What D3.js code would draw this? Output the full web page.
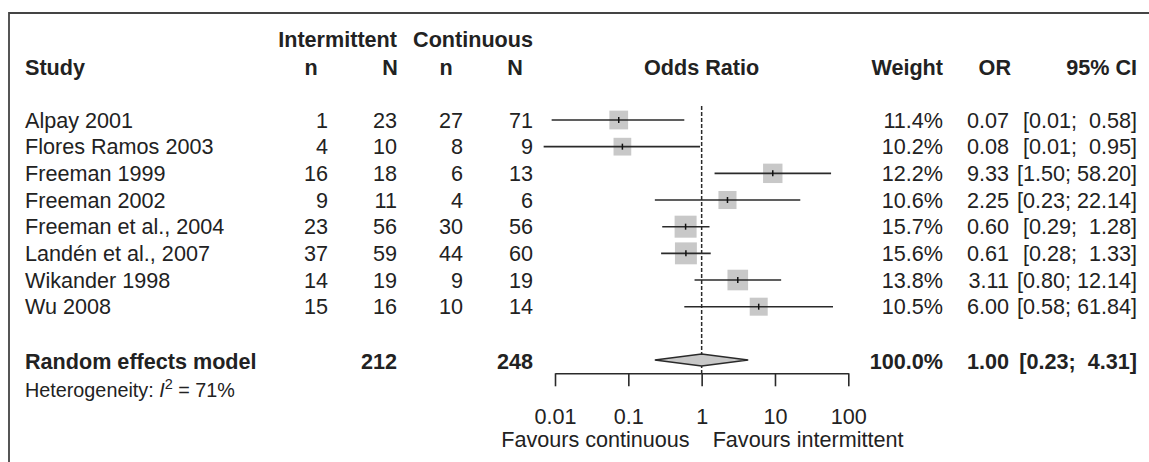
<!DOCTYPE html>
<html>
<head>
<meta charset="utf-8">
<script src="https://cdn.jsdelivr.net/npm/d3@7/dist/d3.min.js"></script>
<style>
  body { margin: 0; background: #fff; }
  svg text { font-family: "Liberation Sans", Arial, Helvetica, sans-serif; fill: #222; }
</style>
</head>
<body>
<div id="chart"></div>
<script>
// study data
const studies = ["Alpay 2001", "Flores Ramos 2003", "Freeman 1999", "Freeman 2002",
  "Freeman et al., 2004", "Landén et al., 2007", "Wikander 1998", "Wu 2008"];
const eventsInt = [1, 4, 16, 9, 23, 37, 14, 15];
const totalInt = [23, 10, 18, 11, 56, 59, 19, 16];
const eventsCon = [27, 8, 6, 4, 30, 44, 9, 10];
const totalCon = [71, 9, 13, 6, 56, 60, 19, 14];
const weights = [11.4, 10.2, 12.2, 10.6, 15.7, 15.6, 13.8, 10.5];
const oddsRatio = [0.074, 0.083, 9.33, 2.25, 0.604, 0.61, 3.11, 6.00];
const ciLower = [0.009, 0.007, 1.50, 0.23, 0.29, 0.28, 0.80, 0.58];
const ciUpper = [0.58, 0.95, 58.20, 22.14, 1.28, 1.33, 12.14, 61.84];

// random effects model
const pooledTotals = [212, 248];
const pooledWeight = [100.0];
const pooledOR = [1.00, 0.23, 4.31]; // estimate, lower, upper
const heterogeneityI2 = [71];

const axisTicks = [0.01, 0.1, 1, 10, 100];

const width = 1149, height = 462;
const fs = 21.6;
const dark = "#2a2a2a";

const svg = d3.select("#chart").append("svg")
  .attr("width", width)
  .attr("height", height);

// frame (top + left edge)
svg.append("path")
  .attr("d", `M9,${height} L9,13 L${width},13`)
  .attr("fill", "none")
  .attr("stroke", "#444")
  .attr("stroke-width", 1.8);

// scales
const x = d3.scaleLog().domain([0.01, 100]).range([555, 848.3]);
const y = d3.scaleLinear().domain([0, 1]).range([120, 146.67]);
const sq = d3.scaleSqrt().domain([0, 15.7]).range([0, 22]);

const fmt2 = d3.format(".2f");
const fmt1 = d3.format(".1f");
const ciText = (lo, hi) => "[" + fmt2(lo) + "; " + fmt2(hi).padStart(5, " ") + "]";

// text helper
function txt(xp, yp, s, anchor, bold, size) {
  return svg.append("text")
    .attr("x", xp)
    .attr("y", yp)
    .attr("text-anchor", anchor || "start")
    .attr("font-size", (size || fs) + "px")
    .attr("font-weight", bold ? "bold" : "normal")
    .style("white-space", "pre")
    .text(s);
}

// headers
const hy1 = 47, hy2 = 75;
txt(397, hy1, "Intermittent", "end", true);
txt(533, hy1, "Continuous", "end", true);
txt(25, hy2, "Study", "start", true);
txt(311, hy2, "n", "middle", true);
txt(390, hy2, "N", "middle", true);
txt(446, hy2, "n", "middle", true);
txt(515, hy2, "N", "middle", true);
txt(x(1), hy2, "Odds Ratio", "middle", true);
txt(943, hy2, "Weight", "end", true);
txt(1011, hy2, "OR", "end", true);
txt(1137, hy2, "95% CI", "end", true);

// reference line at OR = 1
svg.append("line")
  .attr("x1", x(1)).attr("x2", x(1))
  .attr("y1", 106).attr("y2", 373)
  .attr("stroke", dark)
  .attr("stroke-width", 1.5)
  .attr("stroke-dasharray", "4,2");

// study rows
studies.forEach((s, i) => {
  const cy = y(i);
  const by = cy + 7.7;
  txt(25, by, s, "start");
  txt(328, by, String(eventsInt[i]), "end");
  txt(397, by, String(totalInt[i]), "end");
  txt(463, by, String(eventsCon[i]), "end");
  txt(533, by, String(totalCon[i]), "end");
  txt(943, by, fmt1(weights[i]) + "%", "end");
  txt(1009, by, fmt2(oddsRatio[i]), "end");
  txt(1137, by, ciText(ciLower[i], ciUpper[i]), "end");

  const side = sq(weights[i]);
  svg.append("rect")
    .attr("x", x(oddsRatio[i]) - side / 2)
    .attr("y", cy - side / 2)
    .attr("width", side)
    .attr("height", side)
    .attr("fill", "#c8c8c8");

  svg.append("line")
    .attr("x1", x(ciLower[i])).attr("x2", x(ciUpper[i]))
    .attr("y1", cy).attr("y2", cy)
    .attr("stroke", dark)
    .attr("stroke-width", 1.6);

  svg.append("line")
    .attr("x1", x(oddsRatio[i])).attr("x2", x(oddsRatio[i]))
    .attr("y1", cy - 3).attr("y2", cy + 3)
    .attr("stroke", "#111")
    .attr("stroke-width", 1.5);
});

// random effects model row
const py = y(9);
const pby = py + 8.5;
txt(25, pby, "Random effects model", "start", true);
txt(397, pby, String(pooledTotals[0]), "end", true);
txt(533, pby, String(pooledTotals[1]), "end", true);
txt(943, pby, fmt1(pooledWeight[0]) + "%", "end", true);
txt(1009, pby, fmt2(pooledOR[0]), "end", true);
txt(1137, pby, ciText(pooledOR[1], pooledOR[2]), "end", true);

svg.append("polygon")
  .attr("points", [
    [x(pooledOR[1]), py],
    [x(pooledOR[0]), py - 6],
    [x(pooledOR[2]), py],
    [x(pooledOR[0]), py + 6]
  ].map(p => p.join(",")).join(" "))
  .attr("fill", "#c8c8c8")
  .attr("stroke", dark)
  .attr("stroke-width", 1.5);

const het = txt(25, 397, "Heterogeneity: ", "start", false, 19.8);
het.append("tspan").attr("font-style", "italic").text("I");
het.append("tspan").attr("font-size", "14.5px").attr("dy", -8).text("2");
het.append("tspan").attr("dy", 8).text(" = " + heterogeneityI2[0] + "%");

// axis
const axisY = 373.3;
const axis = d3.axisBottom(x)
  .tickValues(axisTicks)
  .tickFormat(d => String(d))
  .tickSizeInner(13)
  .tickSizeOuter(0)
  .tickPadding(22);

const gAxis = svg.append("g")
  .attr("transform", `translate(0,${axisY})`)
  .call(axis);
gAxis.select(".domain").attr("stroke", dark).attr("stroke-width", 1.6);
gAxis.selectAll(".tick line").attr("stroke", dark).attr("stroke-width", 1.6);
gAxis.selectAll(".tick text")
  .attr("font-size", fs + "px")
  .attr("font-family", "'Liberation Sans', Arial, sans-serif")
  .attr("fill", "#222");

txt(x(1) - 12, 447, "Favours continuous", "end");
txt(x(1) + 11, 447, "Favours intermittent", "start");
</script>
</body>
</html>
